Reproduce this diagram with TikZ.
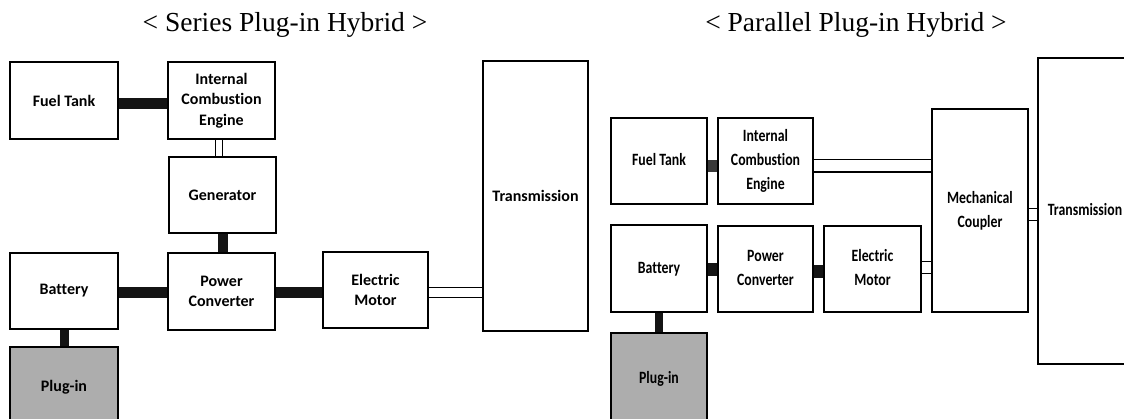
\documentclass[tikz,border=0pt]{standalone}
\usepackage{fontspec}
\setmainfont{Liberation Serif}
\newfontfamily\boxfont{Carlito}[Ligatures=NoCommon]
\usepackage{graphicx}
\usetikzlibrary{backgrounds}
\newcommand{\rtxt}[1]{\scalebox{1}[1.25]{\begin{tabular}{@{}c@{}}#1\end{tabular}}}
\begin{document}
\begin{tikzpicture}[x=1pt,y=-1pt,
  lbox/.style={draw=black, line width=1.4pt, fill=white, inner sep=0pt, align=center,
    font=\boxfont\bfseries\fontsize{16}{20.5}\selectfont},
  rbox/.style={draw=black, line width=1.4pt, fill=white, inner sep=0pt, align=center,
    font=\boxfont\bfseries\fontsize{13.8}{19}\selectfont},
  plugfill/.style={fill=black!32},
  bar/.style={draw=black!92, line width=#1},
  hollow/.style={draw=black, line width=1.3pt, double=white, double distance=#1},
  ttl/.style={font=\fontsize{27.5}{32}\selectfont, anchor=base, inner sep=0pt}
]
\useasboundingbox (0,0) rectangle (1124,419);
\clip (0,0) rectangle (1124,419);

% titles
\node[ttl] (t1) at (285,31.5) {< Series Plug-in Hybrid >};
\node[ttl] (t2) at (856,31.5) {< Parallel Plug-in Hybrid >};

% ---------- left: series ----------
\node[lbox, minimum width=108pt, minimum height=77pt] (ftL) at (64,100.5) {Fuel Tank};
\node[lbox, minimum width=107pt, minimum height=77pt] (iceL) at (221.5,100.5) {Internal\\Combustion\\Engine};
\node[lbox, minimum width=107pt, minimum height=76pt] (genL) at (222.5,195) {Generator};
\node[lbox, minimum width=108pt, minimum height=76pt] (batL) at (64,291) {Battery};
\node[lbox, minimum width=107pt, minimum height=77pt] (pcL) at (221.5,291.5) {Power\\Converter};
\node[lbox, minimum width=105pt, minimum height=76pt] (emL) at (375.5,290) {Electric\\Motor};
\node[lbox, minimum width=105pt, minimum height=270pt] (trL) at (535.5,196) {Transmission};
\node[lbox, plugfill, minimum width=108pt, minimum height=80pt] (plugL) at (64,387) {Plug-in};

% ---------- right: parallel ----------
\node[rbox, minimum width=96pt, minimum height=86pt] (ftR) at (659,161) {\rtxt{Fuel Tank}};
\node[rbox, minimum width=95pt, minimum height=86pt] (iceR) at (765.5,161) {\rtxt{Internal\\Combustion\\Engine}};
\node[rbox, minimum width=96pt, minimum height=87pt] (batR) at (659,268.5) {\rtxt{Battery}};
\node[rbox, minimum width=95pt, minimum height=86pt] (pcR) at (765.5,269) {\rtxt{Power\\Converter}};
\node[rbox, minimum width=97pt, minimum height=86pt] (emR) at (872.5,269) {\rtxt{Electric\\Motor}};
\node[rbox, minimum width=96pt, minimum height=203pt] (mcR) at (980,210.5) {\rtxt{Mechanical\\Coupler}};
\node[rbox, minimum width=94pt, minimum height=306pt] (trR) at (1085,211) {\rtxt{Transmission}};
\node[rbox, plugfill, minimum width=96pt, minimum height=92pt] (plugR) at (659,379) {\rtxt{Plug-in}};

\begin{scope}[on background layer]
% left connectors
\draw[bar=11pt] ([yshift=-3.5pt]ftL.east) -- ([yshift=-3.5pt]ftL.east -| iceL.west);
\draw[hollow=5.5pt] ([xshift=-2.5pt]iceL.south) -- ([xshift=-2.5pt]iceL.south |- genL.north);
\draw[bar=10pt] (genL.south) -- (genL.south |- pcL.north);
\draw[bar=11pt] ([yshift=-1.5pt]batL.east) -- ([yshift=-1.5pt]batL.east -| pcL.west);
\draw[bar=11pt] ([yshift=-1pt]pcL.east) -- ([yshift=-1pt]pcL.east -| emL.west);
\draw[hollow=8.5pt] ([yshift=-2.5pt]emL.east) -- ([yshift=-2.5pt]emL.east -| trL.west);
\draw[bar=9pt] ([xshift=0.5pt]batL.south) -- ([xshift=0.5pt]plugL.north);
% right connectors
\draw[bar=12pt, draw=black!78] ([yshift=-5pt]ftR.east) -- ([yshift=-5pt]ftR.east -| iceR.west);
\draw[hollow=11pt] ([yshift=-5pt]iceR.east) -- ([yshift=-5pt]iceR.east -| mcR.west);
\draw[bar=13pt] ([yshift=-1.5pt]batR.east) -- ([yshift=-1.5pt]batR.east -| pcR.west);
\draw[bar=13pt] ([yshift=-2.5pt]pcR.east) -- ([yshift=-2.5pt]pcR.east -| emR.west);
\draw[hollow=10.5pt] ([yshift=1.5pt]emR.east) -- ([yshift=1.5pt]emR.east -| mcR.west);
\draw[hollow=10.5pt] ([yshift=-4pt]mcR.east) -- ([yshift=-4pt]mcR.east -| trR.west);
\draw[bar=8pt] (batR.south) -- (plugR.north);
\end{scope}
\end{tikzpicture}
\end{document}
